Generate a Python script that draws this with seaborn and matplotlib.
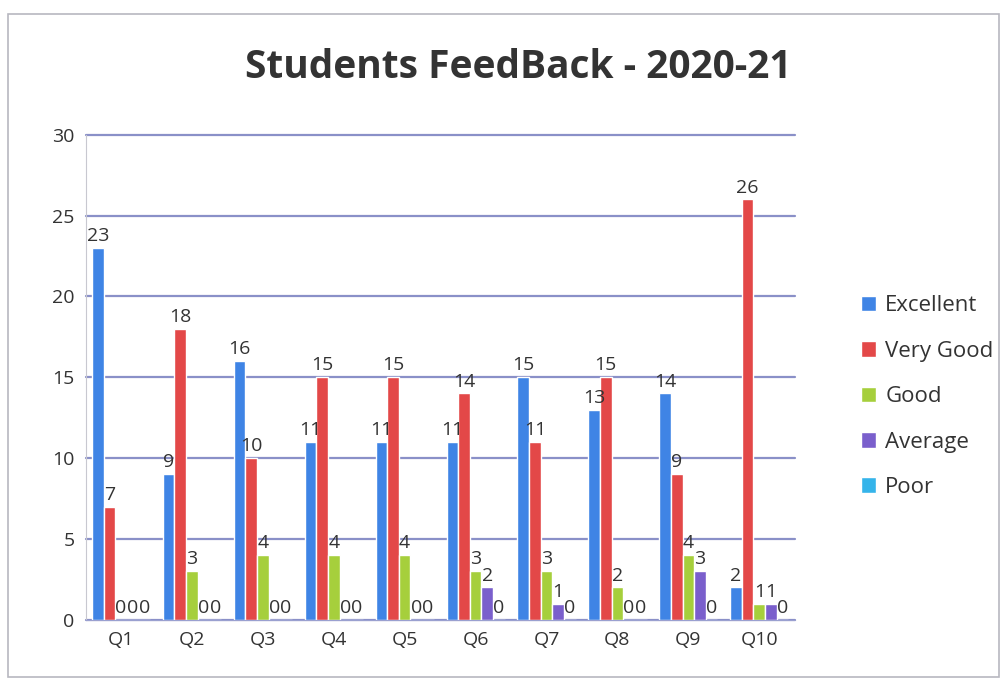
import seaborn as sns
import matplotlib.pyplot as plt
import pandas as pd

questions = ['Q1', 'Q2', 'Q3', 'Q4', 'Q5', 'Q6', 'Q7', 'Q8', 'Q9', 'Q10']
excellent = [23, 9, 16, 11, 11, 11, 15, 13, 14, 2]
very_good = [7, 18, 10, 15, 15, 14, 11, 15, 9, 26]
good = [0, 3, 4, 4, 4, 3, 3, 2, 4, 1]
average = [0, 0, 0, 0, 0, 2, 1, 0, 3, 1]
poor = [0, 0, 0, 0, 0, 0, 0, 0, 0, 0]

ratings = ['Excellent', 'Very Good', 'Good', 'Average', 'Poor']
colors = ['#3f84e5', '#e34848', '#a6cf3c', '#7a5fcc', '#35b4ea']

rows = []
for name, vals in zip(ratings, [excellent, very_good, good, average, poor]):
    for q, v in zip(questions, vals):
        rows.append({'Question': q, 'Rating': name, 'Count': v})
df = pd.DataFrame(rows)

sns.set_style('white')
plt.rcParams['font.family'] = ['Open Sans', 'DejaVu Sans']

fig = plt.figure(figsize=(10.06, 6.84), dpi=100)
ax = fig.add_axes([0.085, 0.094, 0.705, 0.709])

sns.barplot(data=df, x='Question', y='Count', hue='Rating', palette=colors,
            width=0.82, ax=ax, saturation=1)

for c in ax.containers:
    ax.bar_label(c, fontsize=14, color='#333333', padding=2)

ax.set_ylim(0, 30)
ax.set_yticks(range(0, 31, 5))
ax.yaxis.grid(True, color='#8a90c8', linewidth=1.6)
for gl in ax.yaxis.get_gridlines():
    gl.set_clip_on(False)
ax.set_axisbelow(True)
ax.set_xlabel('')
ax.set_ylabel('')
ax.tick_params(axis='both', labelsize=14, colors='#333333', length=0, pad=8)
for s in ['top', 'right']:
    ax.spines[s].set_visible(False)
ax.spines['left'].set_color('#c8c8d0')
ax.spines['bottom'].set_color('#9aa0d0')

fig.suptitle('Students FeedBack - 2020-21', fontsize=28, fontweight='bold',
             color='#333333', x=0.515, y=0.93)

leg = ax.legend(loc='center left', bbox_to_anchor=(1.065, 0.46), frameon=False,
                fontsize=16, handlelength=0.7, handleheight=0.7,
                labelspacing=1.1, handletextpad=0.4)
for t in leg.get_texts():
    t.set_color('#333333')

fig.patches.append(plt.Rectangle((0.008, 0.01), 0.985, 0.97, transform=fig.transFigure,
                                 fill=False, edgecolor='#b8b8c0', linewidth=1.2))

fig.savefig('out.png', dpi=100)
